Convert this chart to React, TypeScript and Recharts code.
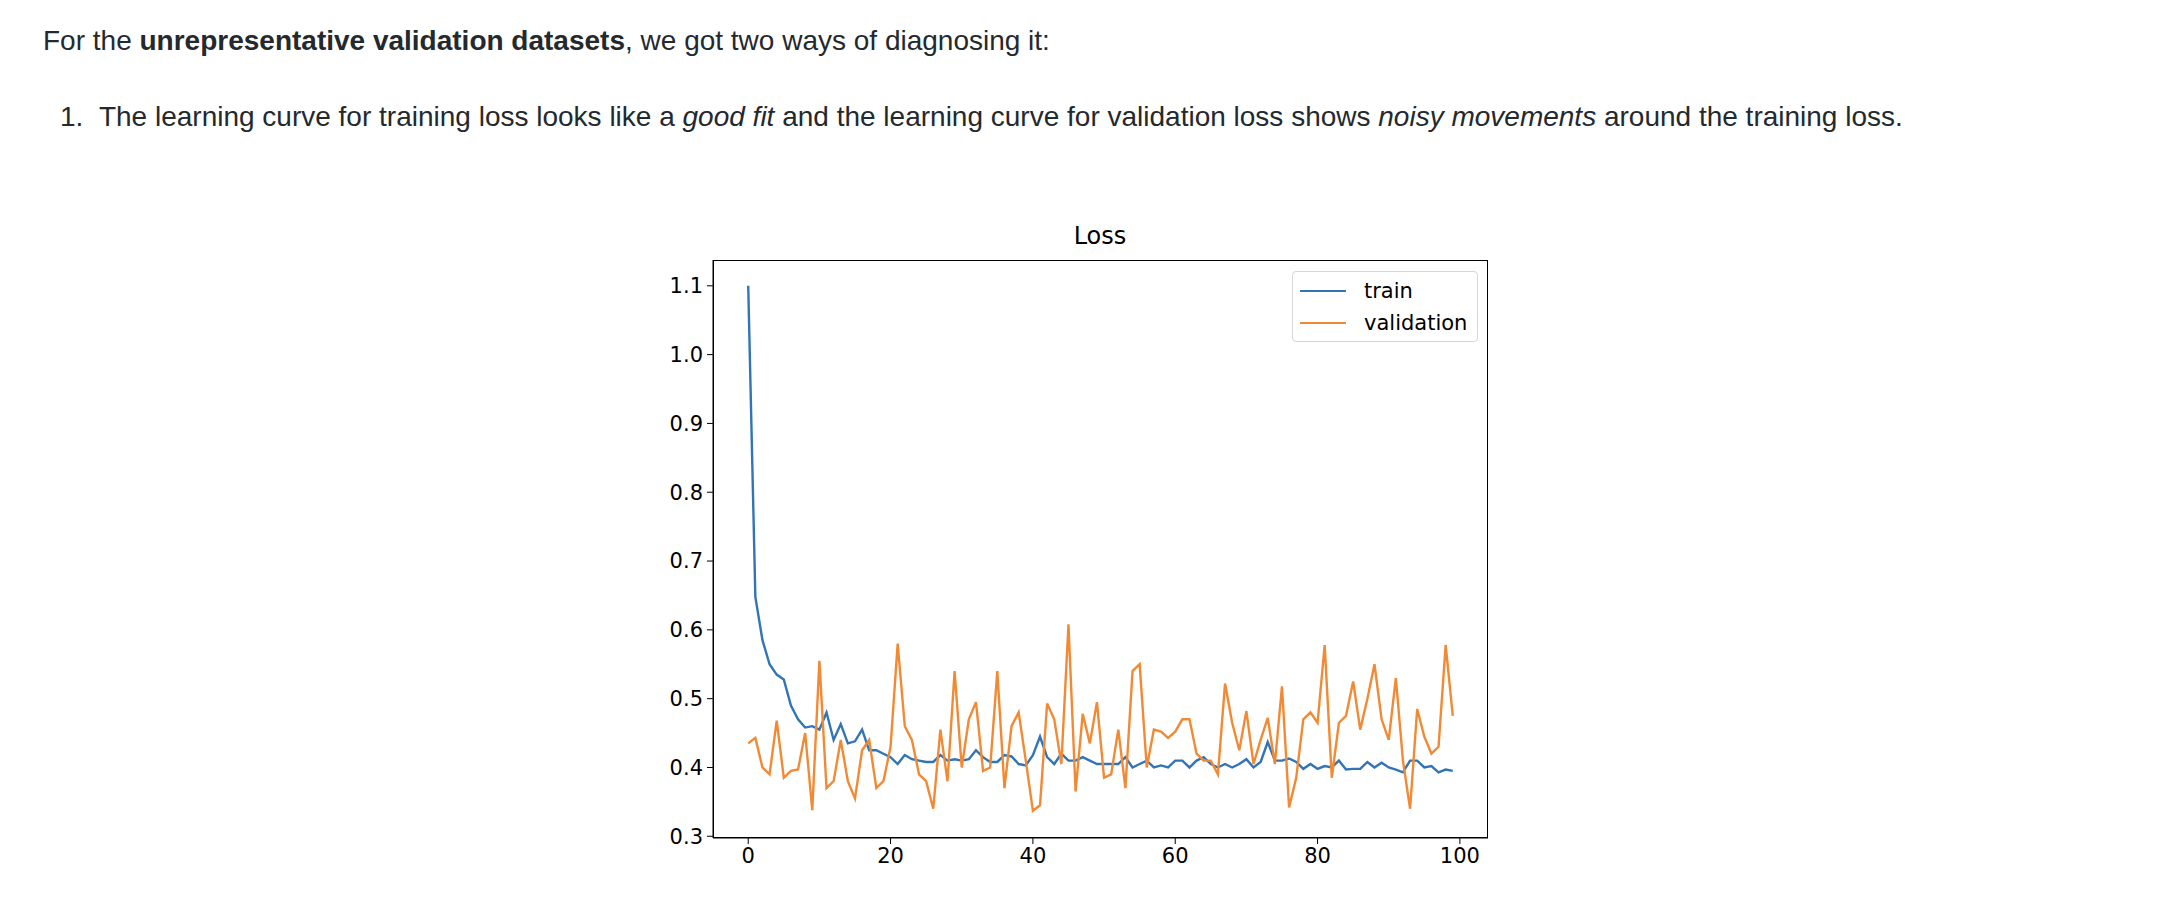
import React from 'react'
import { LineChart, Line, XAxis, YAxis } from 'recharts'

const epochs = Array.from({ length: 100 }, (_, i) => i)

const trainLoss = [
  1.1, 0.648, 0.585, 0.55, 0.535, 0.528, 0.49, 0.47, 0.458, 0.46,
  0.455, 0.48, 0.44, 0.463, 0.435, 0.438, 0.455, 0.425, 0.425, 0.42,
  0.415, 0.405, 0.418, 0.412, 0.41, 0.408, 0.408, 0.418, 0.41, 0.412,
  0.41, 0.412, 0.425, 0.415, 0.408, 0.408, 0.418, 0.416, 0.405, 0.403,
  0.418, 0.445, 0.415, 0.405, 0.42, 0.41, 0.41, 0.415, 0.41, 0.405,
  0.405, 0.405, 0.405, 0.415, 0.4, 0.405, 0.41, 0.4, 0.403, 0.4,
  0.41, 0.41, 0.4, 0.41, 0.415, 0.405, 0.4, 0.405, 0.4, 0.405,
  0.412, 0.4, 0.408, 0.437, 0.41, 0.41, 0.413, 0.408, 0.398, 0.405,
  0.398, 0.402, 0.4, 0.41, 0.397, 0.398, 0.398, 0.408, 0.4, 0.407,
  0.4, 0.397, 0.393, 0.41, 0.41, 0.4, 0.402, 0.393, 0.397, 0.395,
]

const validationLoss = [
  0.435, 0.443, 0.4, 0.39, 0.468, 0.385, 0.395, 0.397, 0.45, 0.338,
  0.555, 0.37, 0.38, 0.44, 0.38, 0.355, 0.425, 0.44, 0.37, 0.38,
  0.43, 0.58, 0.46, 0.44, 0.39, 0.38, 0.34, 0.455, 0.38, 0.54,
  0.4, 0.47, 0.495, 0.395, 0.4, 0.54, 0.37, 0.46, 0.48, 0.41,
  0.337, 0.345, 0.493, 0.47, 0.405, 0.608, 0.365, 0.478, 0.435, 0.495,
  0.385, 0.39, 0.455, 0.37, 0.54, 0.55, 0.4, 0.455, 0.452, 0.443,
  0.452, 0.47, 0.47, 0.42, 0.41, 0.41, 0.39, 0.522, 0.465, 0.425,
  0.482, 0.405, 0.44, 0.472, 0.405, 0.518, 0.342, 0.385, 0.47, 0.48,
  0.465, 0.578, 0.385, 0.465, 0.475, 0.525, 0.455, 0.5, 0.55, 0.47,
  0.44, 0.53, 0.41, 0.34, 0.485, 0.445, 0.42, 0.43, 0.578, 0.475,
]

const xTicks = [0, 20, 40, 60, 80, 100]
const yTicks = [0.3, 0.4, 0.5, 0.6, 0.7, 0.8, 0.9, 1.0, 1.1]

const BLUE = '#3274b5'
const ORANGE = '#f28a35'
const TICK_FONT = { fontFamily: 'DejaVu Sans', fontSize: 21, fill: '#000' }

const data = epochs.map((e, i) => ({ epoch: e, train: trainLoss[i], validation: validationLoss[i] }))

// chart box; plot area runs x 713..1488, y 260..838 on the page
const CHART_LEFT = 620
const CHART_TOP = 230
const CHART_W = 920
const CHART_H = 660
const Y_AXIS_W = 93
const X_AXIS_H = 52
const margin = { left: 0, right: 52, top: 30, bottom: 0 }

function LossLegend() {
  const row = (color: string, label: string) => (
    <div style={{ display: 'flex', alignItems: 'center', height: 32 }}>
      <span style={{ display: 'inline-block', width: 46, height: 2.5, background: color, marginRight: 18 }} />
      <span>{label}</span>
    </div>
  )
  return (
    <div
      style={{
        position: 'absolute',
        left: 1292,
        top: 271,
        width: 186,
        height: 71,
        border: '1.5px solid #d6d6d6',
        borderRadius: 4,
        background: 'rgba(255,255,255,0.8)',
        padding: '3px 0 0 7px',
        fontFamily: 'DejaVu Sans',
        fontSize: 21,
        color: '#000',
        boxSizing: 'border-box',
      }}
    >
      {row(BLUE, 'train')}
      {row(ORANGE, 'validation')}
    </div>
  )
}

export default function App() {
  const textStyle: React.CSSProperties = {
    position: 'absolute',
    fontFamily: '"Liberation Sans", Arial, sans-serif',
    fontSize: 28,
    color: '#24292e',
    whiteSpace: 'nowrap',
    margin: 0,
  }
  return (
    <div style={{ position: 'absolute', left: 0, top: 0, width: 2168, height: 904, background: '#fff' }}>
      <p style={{ ...textStyle, left: 43, top: 25 }}>
        For the <b>unrepresentative validation datasets</b>, we got two ways of diagnosing it:
      </p>
      <p style={{ ...textStyle, left: 60, top: 101 }}>
        1.&nbsp;&nbsp;The learning curve for training loss looks like a <i>good fit</i> and the learning curve for
        validation loss shows <i>noisy movements</i> around the training loss.
      </p>

      <div
        style={{
          position: 'absolute',
          left: 1000,
          width: 200,
          top: 222,
          textAlign: 'center',
          fontFamily: 'DejaVu Sans',
          fontSize: 24,
        }}
      >
        Loss
      </div>

      <div style={{ position: 'absolute', left: CHART_LEFT, top: CHART_TOP }}>
        <LineChart width={CHART_W} height={CHART_H} data={data} margin={margin}>
          <XAxis
            dataKey="epoch"
            type="number"
            domain={[-4.95, 103.95]}
            ticks={xTicks}
            allowDataOverflow
            stroke="#000"
            tick={TICK_FONT}
            tickSize={6}
            tickMargin={4}
            height={X_AXIS_H}
          />
          <YAxis
            type="number"
            domain={[0.2975, 1.1375]}
            ticks={yTicks}
            allowDataOverflow
            stroke="#000"
            tick={TICK_FONT}
            tickSize={6}
            tickMargin={4}
            tickFormatter={(v: number) => v.toFixed(1)}
            width={Y_AXIS_W}
          />
          <Line dataKey="train" stroke={BLUE} strokeWidth={2.4} dot={false} isAnimationActive={false} />
          <Line dataKey="validation" stroke={ORANGE} strokeWidth={2.4} dot={false} isAnimationActive={false} />
        </LineChart>
        <div
          style={{
            position: 'absolute',
            left: Y_AXIS_W,
            top: margin.top,
            width: CHART_W - Y_AXIS_W - margin.right,
            height: CHART_H - margin.top - X_AXIS_H,
            border: '1.5px solid #000',
            boxSizing: 'border-box',
            pointerEvents: 'none',
          }}
        />
      </div>
      <LossLegend />
    </div>
  )
}
